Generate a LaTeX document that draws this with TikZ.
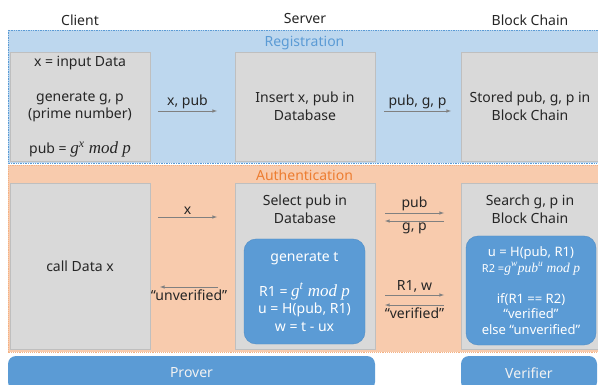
\documentclass[tikz,border=0pt]{standalone}
\usepackage{fontspec}
\setmainfont{Noto Sans}
\newfontfamily\mathserif{Liberation Serif}
\newcommand{\formula}[2]{{\mathserif\itshape\fontsize{#1}{17.5}\selectfont #2}}
\usetikzlibrary{shapes,arrows,positioning}

\definecolor{regfill}{HTML}{BDD7EE}
\definecolor{regline}{HTML}{5B9BD5}
\definecolor{authfill}{HTML}{F8CBAD}
\definecolor{authline}{HTML}{F4B183}
\definecolor{authtext}{HTML}{ED7D31}
\definecolor{boxgray}{HTML}{D9D9D9}
\definecolor{boxline}{HTML}{BFBFBF}
\definecolor{stepblue}{HTML}{5B9BD5}
\definecolor{stepline}{HTML}{4F8CC6}
\definecolor{arrowgray}{HTML}{808080}
\definecolor{txt}{HTML}{262626}

\begin{document}
\begin{tikzpicture}[x=1pt, y=-1pt, font=\fontsize{14}{17.5}\selectfont, text=txt,
    grayblock/.style={rectangle, draw=boxline, fill=boxgray, align=center, inner sep=0pt},
    blueblock/.style={rectangle, rounded corners=12pt, draw=stepline, fill=stepblue, text=white, align=center, inner sep=0pt},
    rolebar/.style={rectangle, rounded corners=8pt, fill=stepblue, text=white!95!black, inner sep=0pt},
    flow/.style={->, >=latex, draw=arrowgray, line width=0.6pt},
    lbl/.style={inner sep=2pt}]
    \useasboundingbox (0,0) rectangle (598,385);
    \clip (0,0) rectangle (598,385);

    % phases
    \draw [fill=regfill, draw=regline, densely dotted, line width=0.7pt] (8,30) rectangle (606,163);
    \draw [fill=authfill, draw=authline, densely dotted, line width=0.9pt] (8,165) rectangle (606,352);
    \node [text=regline] (reglabel) at (304.5,43) {Registration};
    \node [text=authtext] (authlabel) at (304.5,175) {Authentication};

    % headers
    \node (client) at (80,20) {Client};
    \node (server) at (305,18.5) {Server};
    \node (chain) at (530,20) {Block Chain};

    % registration
    \node [grayblock, minimum width=140pt, minimum height=109pt] (cltreg) at (80,106.5)
        {x = input Data\\[17.5pt] generate g, p\\ (prime number)\\[17.5pt] pub = \formula{17}{g\textsuperscript{x} mod p}};
    \node [grayblock, minimum width=140pt, minimum height=109pt] (srvreg) at (305,106.5) {Insert x, pub in\\Database};
    \node [grayblock, minimum width=138pt, minimum height=109pt] (bcreg) at (530,106.5) {Stored pub, g, p in\\Block Chain};

    \coordinate (a1) at (158,111);
    \coordinate (a2) at (217,111);
    \coordinate (b1) at (384,111);
    \coordinate (b2) at (451,111);
    \draw [flow] (a1) -- node [above, lbl] {x, pub} (a2);
    \draw [flow] (b1) -- node [above, lbl] {pub, g, p} (b2);

    % authentication
    \node [grayblock, minimum width=140pt, minimum height=166pt] (cltauth) at (80,266) {call Data x};
    \node [grayblock, minimum width=140pt, minimum height=166pt] (srvauth) at (305,266) {};
    \node [grayblock, minimum width=138pt, minimum height=166pt] (bcauth) at (530,266) {};
    \node [below=12pt of srvauth.north, align=center, inner sep=0pt] (srvtitle) {Select pub in\\Database};
    \node [below=12pt of bcauth.north, align=center, inner sep=0pt] (bctitle) {Search g, p in\\Block Chain};

    \node [blueblock, minimum width=121pt, minimum height=105pt] (gent) at (304.5,291.5)
        {generate t\\[17.5pt] R1 = \formula{17}{g\textsuperscript{t} mod p}\\ u = H(pub, R1)\\ w = t - ux};
    \node [blueblock, minimum width=130pt, minimum height=109pt, font=\fontsize{13}{15.5}\selectfont] (check) at (531,290.5)
        {u = H(pub, R1)\\ {\fontsize{11}{13}\selectfont R2 =\formula{13.5}{g\textsuperscript{w}pub\textsuperscript{u} mod p}}\\[15.5pt]
         if(R1 == R2)\\ “verified”\\ else “unverified”};

    \coordinate (c1) at (158,217);
    \coordinate (c2) at (217,217);
    \coordinate (d1) at (218,287);
    \coordinate (d2) at (160,287);
    \draw [flow] (c1) -- node [above, lbl] {x} (c2);
    \draw [flow] (d1) -- node [below, lbl] {“unverified”} (d2);

    \coordinate (e1) at (385,213);
    \coordinate (e2) at (444,213);
    \coordinate (f1) at (444,221);
    \coordinate (f2) at (385,221);
    \draw [flow] (e1) -- node [above, lbl] {pub} (e2);
    \draw [flow] (f1) -- node [below, lbl] {g, p} (f2);

    \coordinate (g1) at (385,295);
    \coordinate (g2) at (444,295);
    \coordinate (h1) at (444,305);
    \coordinate (h2) at (385,305);
    \draw [flow] (g1) -- node [above, lbl] {R1, w} (g2);
    \draw [flow] (h1) -- node [below, lbl] {“verified”} (h2);

    % roles
    \node [rolebar, minimum width=367pt, minimum height=34pt] (prover) at (191.5,373) {Prover};
    \node [rolebar, minimum width=136pt, minimum height=34pt] (verifier) at (529,373) {Verifier};
\end{tikzpicture}
\end{document}
